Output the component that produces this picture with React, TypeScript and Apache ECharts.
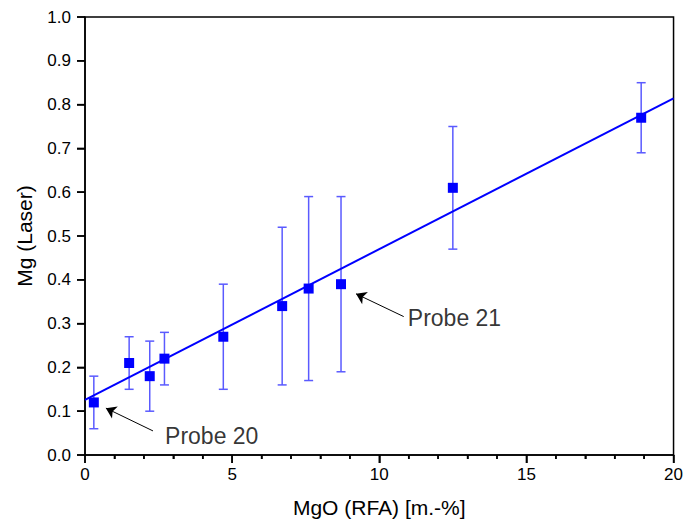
import React, { useEffect, useRef } from "react";
import * as echarts from "echarts";

const xValues = [0.3, 1.5, 2.2, 2.7, 4.7, 6.7, 7.6, 8.7, 12.5, 18.9];
const yValues = [0.12, 0.21, 0.18, 0.22, 0.27, 0.34, 0.38, 0.39, 0.61, 0.77];
const yLow = [0.06, 0.15, 0.10, 0.16, 0.15, 0.16, 0.17, 0.19, 0.47, 0.69];
const yHigh = [0.18, 0.27, 0.26, 0.28, 0.39, 0.52, 0.59, 0.59, 0.75, 0.85];
const fitLine = [
  [0, 0.126],
  [20, 0.814],
];
const xMajorTicks = [0, 5, 10, 15, 20];
const xMinorTicks = [1, 2, 3, 4, 6, 7, 8, 9, 11, 12, 13, 14, 16, 17, 18, 19];
const yMajorTicks = [0, 0.1, 0.2, 0.3, 0.4, 0.5, 0.6, 0.7, 0.8, 0.9, 1.0];
const annotations = [
  { label: "Probe 20", text: [2.72, 0.043], tail: [2.31, 0.055], tip: [0.71, 0.107] },
  { label: "Probe 21", text: [10.97, 0.313], tail: [10.83, 0.316], tip: [9.21, 0.368] },
];

const FONT = "'Liberation Sans', Arial, Helvetica, sans-serif";

function tickSeries(data: number[][], dir: "x" | "y", len: number) {
  return {
    type: "custom",
    data,
    clip: false,
    silent: true,
    z: 6,
    encode: { x: 0, y: 1 },
    renderItem: (params: any, api: any) => {
      const p = api.coord([api.value(0), api.value(1)]);
      const shape =
        dir === "x"
          ? { x1: p[0], y1: p[1], x2: p[0], y2: p[1] + len }
          : { x1: p[0] - len, y1: p[1], x2: p[0], y2: p[1] };
      return { type: "line", shape, style: { stroke: "#000", lineWidth: 1.5 } };
    },
  };
}

export default function App() {
  const ref = useRef<HTMLDivElement>(null);
  useEffect(() => {
    document.body.style.margin = "0";
    const chart = echarts.init(ref.current!, null, { renderer: "svg" });
    const points = xValues.map((x, i) => [x, yValues[i]]);
    const bars = xValues.map((x, i) => [x, yLow[i], yHigh[i]]);
    const axisLine = { show: true, onZero: false, lineStyle: { color: "#000", width: 1.5 } };
    const tick = (len: number) => ({
      show: true,
      inside: false,
      length: len,
      lineStyle: { color: "#000", width: 1.5 },
    });
    chart.setOption({
      animation: false,
      backgroundColor: "#fff",
      textStyle: { fontFamily: FONT },
      grid: {
        left: 85,
        right: 10,
        top: 17,
        bottom: 67,
        show: true,
        borderColor: "#000",
        borderWidth: 1.5,
        backgroundColor: "transparent",
      },
      xAxis: [
        {
          // ticks + axis line (labels hidden)
          type: "value",
          position: "bottom",
          min: 0,
          max: 20,
          interval: 5,
          axisLine,
          axisTick: tick(8),
          minorTick: { show: true, splitNumber: 5, length: 4, lineStyle: { color: "#000", width: 1.5 } },
          axisLabel: { show: false },
          splitLine: { show: false },
          minorSplitLine: { show: false },
        },
        {
          // labels + name
          type: "value",
          position: "bottom",
          min: 0,
          max: 20,
          interval: 5,
          name: "MgO (RFA) [m.-%]",
          nameLocation: "middle",
          nameGap: 42,
          nameTextStyle: { fontSize: 21, color: "#000", fontFamily: FONT },
          axisLine: { show: false },
          axisTick: { show: false },
          axisLabel: { show: true, fontSize: 17, color: "#000", margin: 11, fontFamily: FONT },
          splitLine: { show: false },
        },
      ],
      yAxis: [
        {
          type: "value",
          position: "left",
          min: 0,
          max: 1,
          interval: 0.1,
          axisLine,
          axisTick: tick(8),
          axisLabel: { show: false },
          splitLine: { show: false },
        },
        {
          type: "value",
          position: "left",
          min: 0,
          max: 1,
          interval: 0.1,
          name: "Mg (Laser)",
          nameLocation: "middle",
          nameGap: 50,
          nameTextStyle: { fontSize: 21, color: "#000", fontFamily: FONT },
          axisLine: { show: false },
          axisTick: { show: false },
          axisLabel: {
            show: true,
            fontSize: 17,
            color: "#000",
            margin: 14,
            fontFamily: FONT,
            formatter: (v: number) => v.toFixed(1),
          },
          splitLine: { show: false },
        },
      ],
      series: [
        tickSeries(xMajorTicks.map((v) => [v, 0]), "x", 8),
        tickSeries(xMinorTicks.map((v) => [v, 0]), "x", 4),
        tickSeries(yMajorTicks.map((v) => [0, v]), "y", 8),
        {
          type: "line",
          data: fitLine,
          symbol: "none",
          lineStyle: { color: "#0000ff", width: 2 },
          z: 3,
        },
        {
          type: "custom",
          data: bars,
          encode: { x: 0, y: [1, 2] },
          z: 2,
          renderItem: (params: any, api: any) => {
            const x = api.value(0);
            const lo = api.coord([x, api.value(1)]);
            const hi = api.coord([x, api.value(2)]);
            const w = 4.5;
            const style = { stroke: "#5a5aff", lineWidth: 1.5 };
            return {
              type: "group",
              children: [
                { type: "line", shape: { x1: lo[0], y1: lo[1], x2: hi[0], y2: hi[1] }, style },
                { type: "line", shape: { x1: lo[0] - w, y1: lo[1], x2: lo[0] + w, y2: lo[1] }, style },
                { type: "line", shape: { x1: hi[0] - w, y1: hi[1], x2: hi[0] + w, y2: hi[1] }, style },
              ],
            };
          },
        },
        {
          type: "scatter",
          data: points,
          symbol: "rect",
          symbolSize: 10,
          itemStyle: { color: "#0000ff", opacity: 1 },
          z: 4,
        },
        {
          type: "scatter",
          data: annotations.map((a) => ({ value: a.text, name: a.label })),
          symbol: "circle",
          symbolSize: 0,
          z: 5,
          label: {
            show: true,
            position: "right",
            distance: 0,
            formatter: (p: any) => p.name,
            fontSize: 23,
            color: "#000",
            fontFamily: FONT,
          },
          markLine: {
            silent: true,
            symbol: ["none", "arrow"],
            symbolSize: 10,
            label: { show: false },
            lineStyle: { color: "#000", width: 1, type: "solid" },
            data: annotations.map((a) => [{ coord: a.tail }, { coord: a.tip }]),
          },
        },
      ],
    });
    return () => chart.dispose();
  }, []);
  return <div ref={ref} style={{ width: 686, height: 523 }} />;
}
